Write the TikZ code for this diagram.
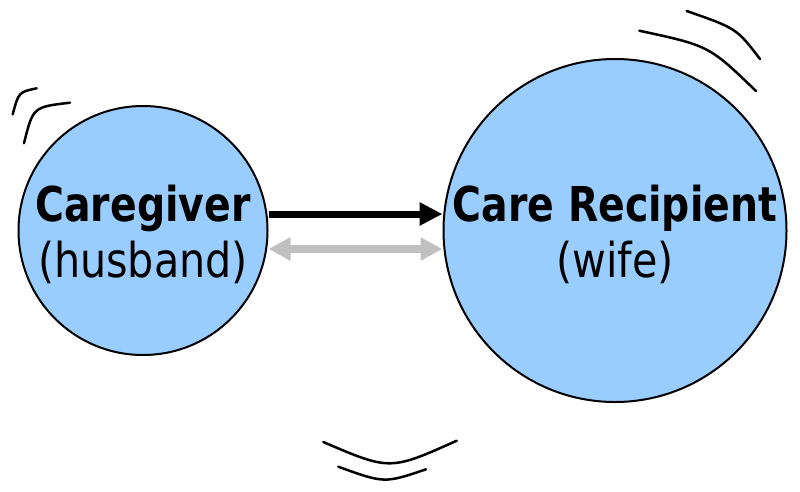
\documentclass[tikz,border=0pt]{standalone}
\usepackage{fontspec}
\usepackage{xcolor}
\usepackage{tikz}
\usetikzlibrary{arrows.meta}
\newfontfamily\bubblefont[FakeStretch=0.86, BoldFeatures={FakeStretch=0.82}]{DejaVu Sans}
\definecolor{bubbleblue}{RGB}{153, 204, 255}
\definecolor{returngray}{RGB}{192, 192, 192}
\tikzstyle{person} = [circle, draw=black, fill=bubbleblue, line width=2pt, inner sep=0pt]
\tikzstyle{bubbletext} = [align=center, inner sep=0pt, yshift=-3.5pt, font=\bubblefont\fontsize{48}{56}\selectfont]
\tikzstyle{carearrow} = [-{Triangle[length=23pt, width=22pt]}, line width=7pt]
\tikzstyle{returnarrow} = [{Triangle[length=22pt, width=22pt]}-{Triangle[length=22pt, width=22pt]}, line width=8pt, draw=returngray]
\tikzstyle{motion} = [line width=2.5pt, line cap=round]

\begin{document}
\begin{tikzpicture}[x=1pt, y=-1pt]
    \useasboundingbox (0,0) rectangle (800,491);

    % Caregiver
    \node[person, minimum size=249pt] (giver) at (143, 230.5) {};
    \node[bubbletext] (giverlabel) at (giver) {\textbf{Caregiver}\\(husband)};

    % Care Recipient
    \node[person, minimum size=343pt] (recipient) at (615, 230.5) {};
    \node[bubbletext] (recipientlabel) at (recipient) {\textbf{Care Recipient}\\(wife)};

    % Arrows between the two
    \draw[carearrow] ([yshift=16.5pt]giver.east) -- ([yshift=16.5pt]recipient.west);
    \draw[returnarrow] ([yshift=-18.5pt]giver.east) -- ([yshift=-18.5pt]recipient.west);

    % Motion lines
    \draw[motion] (12.7, 114.3) .. controls (18.7, 92.1) .. (36.7, 88.3);
    \draw[motion] (24, 143.3) .. controls (33, 107) .. (70, 102.7);
    \draw[motion] (686.7, 11) .. controls (736.6, 28.4) .. (760, 59);
    \draw[motion] (639.3, 30.7) .. controls (709, 45.7) .. (756, 91);
    \draw[motion] (323.3, 442) .. controls (390, 470.6) .. (456.7, 440.7);
    \draw[motion] (338.3, 466.7) .. controls (384.4, 483.4) .. (426, 469.3);
\end{tikzpicture}
\end{document}
